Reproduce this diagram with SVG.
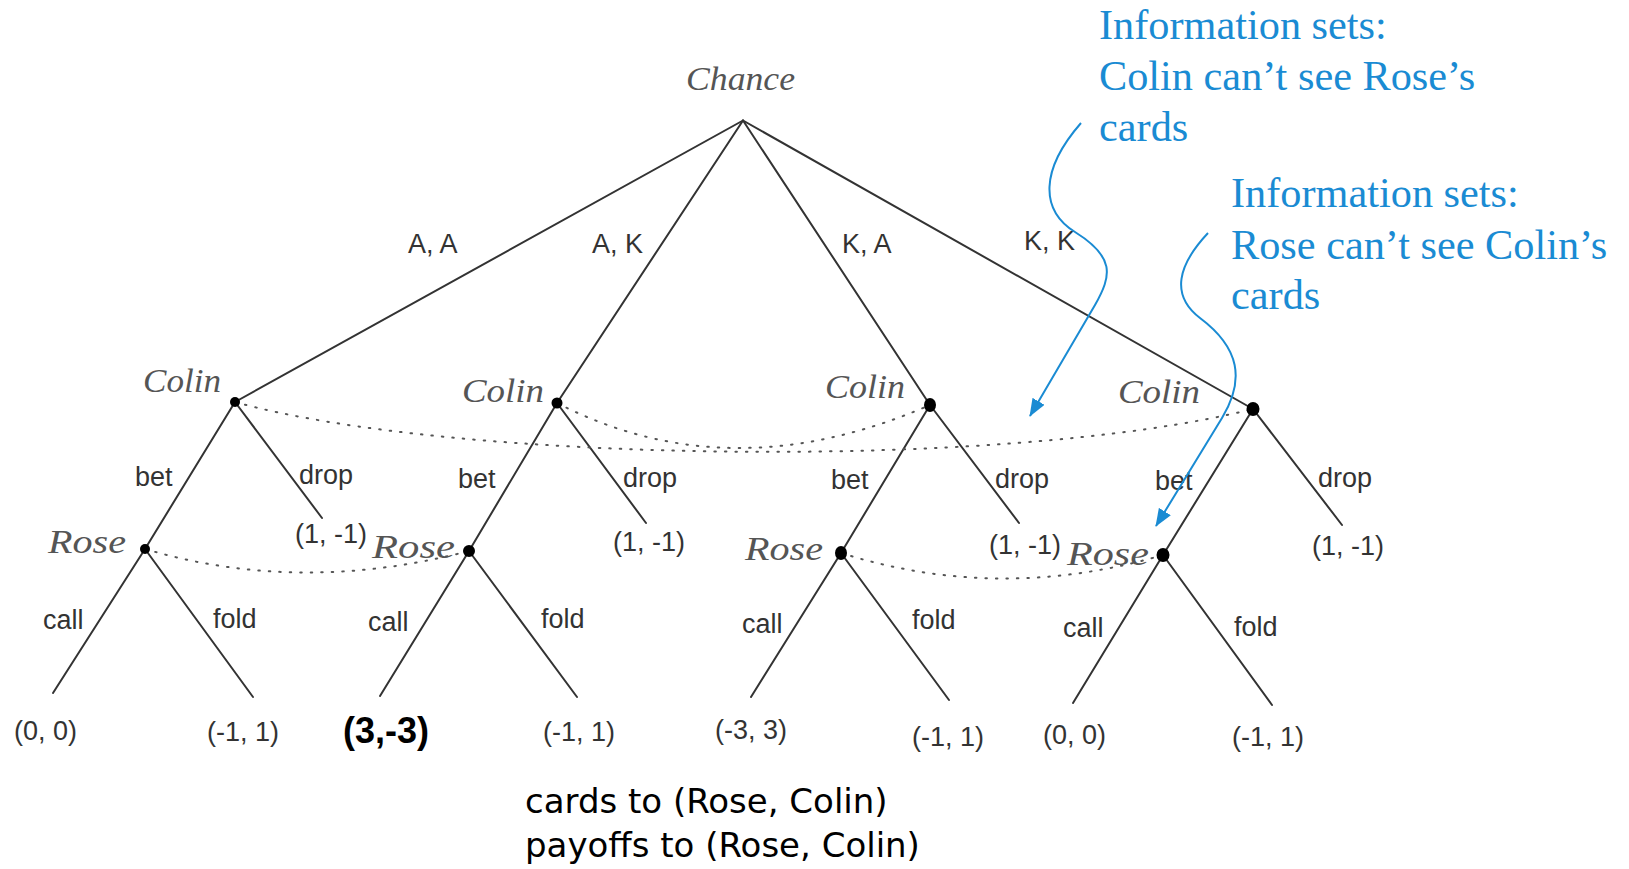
<svg xmlns="http://www.w3.org/2000/svg" width="1629" height="869" viewBox="0 0 1629 869">
<defs>
<style>
.edge{stroke:#333;stroke-width:2;fill:none;stroke-linecap:round}
.info{stroke:#555;stroke-width:2;fill:none;stroke-dasharray:1.5 9;stroke-linecap:round}
.dot{fill:#000}
.lbl{font-family:"Liberation Sans",Arial,sans-serif;font-size:27px;fill:#333}
.bold{font-family:"Liberation Sans",Arial,sans-serif;font-size:36px;font-weight:bold;fill:#000}
.script{font-family:"Liberation Serif","DejaVu Serif",serif;font-style:italic;font-size:34px;fill:#555}
.note{font-family:"Liberation Serif","Times New Roman",serif;font-size:42.3px;fill:#1a8bd3}
.blue{stroke:#1a8bd3;stroke-width:2;fill:none}
.cap{font-family:"DejaVu Sans",Verdana,sans-serif;font-size:34px;fill:#000}
</style>
<marker id="ah" markerUnits="userSpaceOnUse" markerWidth="18" markerHeight="14" refX="17" refY="7" orient="auto">
<path d="M0,0 L18,7 L0,14 z" fill="#1a8bd3"/>
</marker>
</defs>
<rect width="1629" height="869" fill="#fff"/>

<g id="connectors">
<line class="edge" x1="743" y1="120.5" x2="235" y2="402"/>
<line class="edge" x1="743" y1="120.5" x2="557" y2="403"/>
<line class="edge" x1="743" y1="120.5" x2="930" y2="405"/>
<line class="edge" x1="743" y1="120.5" x2="1253" y2="409"/>
<line class="edge" x1="235" y1="402" x2="145" y2="549"/>
<line class="edge" x1="235" y1="402" x2="322" y2="518"/>
<line class="edge" x1="557" y1="403" x2="469" y2="551"/>
<line class="edge" x1="557" y1="403" x2="646" y2="523"/>
<line class="edge" x1="930" y1="405" x2="841" y2="553"/>
<line class="edge" x1="930" y1="405" x2="1019" y2="523"/>
<line class="edge" x1="1253" y1="409" x2="1163" y2="555"/>
<line class="edge" x1="1253" y1="409" x2="1342" y2="525"/>
<line class="edge" x1="145" y1="549" x2="53" y2="693"/>
<line class="edge" x1="145" y1="549" x2="253" y2="697"/>
<line class="edge" x1="469" y1="551" x2="380" y2="696"/>
<line class="edge" x1="469" y1="551" x2="577" y2="697"/>
<line class="edge" x1="841" y1="553" x2="751" y2="697"/>
<line class="edge" x1="841" y1="553" x2="949" y2="700"/>
<line class="edge" x1="1163" y1="555" x2="1073" y2="703"/>
<line class="edge" x1="1163" y1="555" x2="1272" y2="705"/>
<text class="lbl" x="408" y="253">A, A</text>
<text class="lbl" x="592" y="253">A, K</text>
<text class="lbl" x="842" y="253">K, A</text>
<text class="lbl" x="1024" y="250">K, K</text>
<text class="lbl" x="135" y="486">bet</text>
<text class="lbl" x="299" y="484">drop</text>
<text class="lbl" x="458" y="488">bet</text>
<text class="lbl" x="623" y="487">drop</text>
<text class="lbl" x="831" y="489">bet</text>
<text class="lbl" x="995" y="488">drop</text>
<text class="lbl" x="1155" y="490">bet</text>
<text class="lbl" x="1318" y="487">drop</text>
<text class="lbl" x="43" y="629">call</text>
<text class="lbl" x="213" y="628">fold</text>
<text class="lbl" x="368" y="631">call</text>
<text class="lbl" x="541" y="628">fold</text>
<text class="lbl" x="742" y="633">call</text>
<text class="lbl" x="912" y="629">fold</text>
<text class="lbl" x="1063" y="637">call</text>
<text class="lbl" x="1234" y="636">fold</text>
<path class="info" d="M235,402 C450,462 1000,472 1253,409"/>
<path class="info" d="M557,403 Q730,492 930,405"/>
<path class="info" d="M145,549 Q300,595 469,551"/>
<path class="info" d="M841,553 Q1000,603 1163,555"/>
</g>

<g id="chance"><text class="script" x="686" y="90" textLength="109" lengthAdjust="spacingAndGlyphs">Chance</text></g>
<g id="colin-aa"><circle class="dot" cx="235" cy="402" r="5"/><text class="script" x="143" y="392" textLength="78" lengthAdjust="spacingAndGlyphs">Colin</text></g>
<g id="colin-ak"><circle class="dot" cx="557" cy="403" r="5.5"/><text class="script" x="462" y="402" textLength="82" lengthAdjust="spacingAndGlyphs">Colin</text></g>
<g id="colin-ka"><ellipse class="dot" cx="930" cy="405" rx="6" ry="7"/><text class="script" x="825" y="398" textLength="80" lengthAdjust="spacingAndGlyphs">Colin</text></g>
<g id="colin-kk"><ellipse class="dot" cx="1253" cy="409" rx="6.5" ry="7"/><text class="script" x="1118" y="403" textLength="82" lengthAdjust="spacingAndGlyphs">Colin</text></g>
<g id="rose-aa"><circle class="dot" cx="145" cy="549" r="5"/><text class="script" x="48" y="553" textLength="78" lengthAdjust="spacingAndGlyphs">Rose</text></g>
<g id="rose-ak"><circle class="dot" cx="469" cy="551" r="6"/><text class="script" x="372" y="558" textLength="83" lengthAdjust="spacingAndGlyphs">Rose</text></g>
<g id="rose-ka"><ellipse class="dot" cx="841" cy="553" rx="6" ry="7"/><text class="script" x="745" y="560" textLength="78" lengthAdjust="spacingAndGlyphs">Rose</text></g>
<g id="rose-kk"><ellipse class="dot" cx="1163" cy="555" rx="6.5" ry="7"/><text class="script" x="1067" y="565" textLength="82" lengthAdjust="spacingAndGlyphs">Rose</text></g>

<g id="drop-aa"><text class="lbl" x="295" y="543">(1, -1)</text></g>
<g id="drop-ak"><text class="lbl" x="613" y="551">(1, -1)</text></g>
<g id="drop-ka"><text class="lbl" x="989" y="554">(1, -1)</text></g>
<g id="drop-kk"><text class="lbl" x="1312" y="555">(1, -1)</text></g>
<g id="leaf-aa-call"><text class="lbl" x="14" y="740">(0, 0)</text></g>
<g id="leaf-aa-fold"><text class="lbl" x="207" y="741">(-1, 1)</text></g>
<g id="leaf-ak-call"><text class="bold" x="343" y="743">(3,-3)</text></g>
<g id="leaf-ak-fold"><text class="lbl" x="543" y="741">(-1, 1)</text></g>
<g id="leaf-ka-call"><text class="lbl" x="715" y="739">(-3, 3)</text></g>
<g id="leaf-ka-fold"><text class="lbl" x="912" y="746">(-1, 1)</text></g>
<g id="leaf-kk-call"><text class="lbl" x="1043" y="744">(0, 0)</text></g>
<g id="leaf-kk-fold"><text class="lbl" x="1232" y="746">(-1, 1)</text></g>

<g id="note-colin">
<text class="note" x="1099" y="39">Information sets:</text>
<text class="note" x="1099" y="90">Colin can’t see Rose’s</text>
<text class="note" x="1099" y="141">cards</text>
<path class="blue" marker-end="url(#ah)" d="M1081,123 C1040,170 1040,210 1075,232 C1115,257 1112,275 1095,305 L1030,416"/>
</g>
<g id="note-rose">
<text class="note" x="1231" y="207">Information sets:</text>
<text class="note" x="1231" y="259">Rose can’t see Colin’s</text>
<text class="note" x="1231" y="309">cards</text>
<path class="blue" marker-end="url(#ah)" d="M1208,233 C1178,265 1170,295 1200,318 C1240,348 1245,380 1222,418 L1156,526"/>
</g>
<g id="caption">
<text class="cap" x="525" y="813">cards to (Rose, Colin)</text>
<text class="cap" x="525" y="857">payoffs to (Rose, Colin)</text>
</g>
</svg>
